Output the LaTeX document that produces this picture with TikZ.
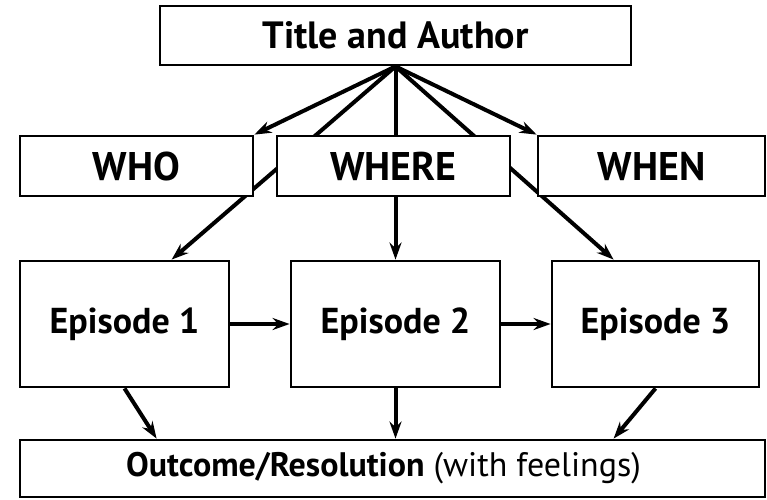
\documentclass[tikz,border=0pt]{standalone}
\usepackage{fontspec}
\setmainfont{PT Sans}
\usetikzlibrary{arrows.meta,backgrounds,calc}
\tikzset{
  box/.style={draw=black,line width=2.8pt,fill=white,inner sep=0pt},
  arr/.style={line width=4pt,-{Stealth[length=17pt,width=12pt]}},
  fA/.style={font=\fontsize{38}{42}\selectfont\bfseries},
  fB/.style={font=\fontsize{40}{44}\selectfont\bfseries},
  fC/.style={font=\fontsize{36}{40}\selectfont\bfseries},
  fD/.style={font=\fontsize{34}{38}\selectfont}
}
\begin{document}
\begin{tikzpicture}[x=1pt,y=-1pt]
\useasboundingbox (0,0) rectangle (767,499);
\node[box,fA,minimum width=471pt,minimum height=59pt] (T) at (395.5,35.5) {Title and Author};
\node[box,fB,minimum width=233pt,minimum height=60pt] (WHO) at (136.5,166) {WHO};
\node[box,fB,minimum width=233pt,minimum height=60pt] (WHERE) at (393.5,166) {WHERE};
\node[box,fB,minimum width=227pt,minimum height=60pt] (WHEN) at (651.5,166) {WHEN};
\node[box,fC,minimum width=209pt,minimum height=126pt] (E1) at (124.5,324) {Episode 1};
\node[box,fC,minimum width=209pt,minimum height=126pt] (E2) at (395.5,324) {Episode 2};
\node[box,fC,minimum width=207pt,minimum height=126pt] (E3) at (655.5,324) {Episode 3};
\node[box,fD,minimum width=745pt,minimum height=57pt] (O) at (392.5,468.5) {\textbf{Outcome/Resolution} (with feelings)\hspace*{18pt}};
\begin{pgfonlayer}{background}
\draw[arr] (T.south) -- (WHO.north east);
\draw[arr] (T.south) -- (WHEN.north west);
\draw[arr] (T.south) -- ([xshift=153pt]E1.north west);
\draw[arr] (T.south) -- (E2.north);
\draw[arr] (T.south) -- ([xshift=63pt]E3.north west);
\end{pgfonlayer}
\draw[arr] (E1.east) -- (E2.west);
\draw[arr] (E2.east) -- (E3.west);
\draw[arr] (E1.south) -- ([xshift=138pt]O.north west);
\draw[arr] (E2.south) -- (E2.south |- O.north);
\draw[arr] (E3.south) -- ([xshift=595pt]O.north west);
\end{tikzpicture}
\end{document}
